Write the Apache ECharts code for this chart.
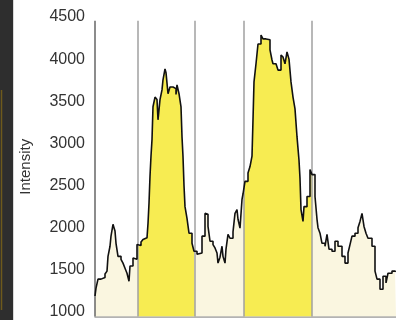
<!DOCTYPE html>
<html>
<head>
<meta charset="utf-8">
<script src="https://cdn.jsdelivr.net/npm/echarts@6/dist/echarts.min.js"></script>
<style>html,body{margin:0;padding:0;background:#fff;}#c{width:396px;height:320px;}</style>
</head>
<body>
<div id="c"></div>
<script>
// Position along the scan (arbitrary units) and measured intensity
const position = [0,1,3,6,8,10,12,13,15,16,18,19,20,21,23,26,28,30,32,34,35,38,40,42,44,46,48,50,52,53,54,55,56,57,58,60,62,63,65,67,68,70,71,72,73,75,78,81,82,84,86,87,88,89,90,92,94,97,99,102,104,107,110,112,113,115,118,120,122,123,125,127,128,130,131,133,135,138,140,142,143,145,147,148,150,153,155,157,158,159,161,163,166,168,171,173,175,177,178,181,183,186,188,190,192,194,196,198,200,202,204,205,206,208,209,212,215,217,220,222,223,225,227,230,232,234,237,240,243,247,250,253,255,257,260,263,265,267,269,271,273,277,280,282,285,288,291,293,297,300,301];
const intensity = [1190,1284,1390,1400,1410,1450,1485,1660,1780,1900,2040,2000,1960,1815,1660,1625,1580,1520,1460,1365,1545,1640,1625,1800,1790,1830,1860,1880,1900,2050,2290,2610,2850,3045,3435,3550,3520,3280,3520,3635,3755,3885,3840,3825,3590,3670,3650,3580,3695,3590,3435,3080,2845,2500,2250,2110,1935,1815,1720,1685,1700,1900,2170,2160,2015,1840,1800,1760,1700,1580,1650,1780,1660,1580,1745,1920,1875,1950,2170,2215,2100,1995,2335,2400,2550,2650,2725,2850,3280,3730,3945,4180,4285,4240,4260,4230,4110,3990,3945,3930,3870,4050,4025,3945,4085,4000,3730,3550,3410,3080,2800,2585,2215,2075,2250,2370,2690,2630,2370,2100,2000,1935,1815,1780,1920,1745,1720,1840,1780,1660,1580,1700,1800,1900,1935,2000,2075,2170,2015,1935,1875,1780,1485,1390,1270,1425,1345,1460,1485,1480];
// Highlighted peak regions (start, end) and all region divider positions
const peakRegions = [[43, 100], [149, 217]];
const dividers = [43, 100, 149, 217];
const yTickLabels = [1000, 1500, 2000, 2500, 3000, 3500, 4000, 4500];

const pts = position.map((p, i) => [p, intensity[i]]);
function valueAt(x) {
  let v = intensity[0];
  for (let i = 0; i < position.length; i++) { if (position[i] <= x) v = intensity[i]; }
  return v;
}
function subset(a, b) {
  const out = [[a, valueAt(a)]];
  pts.forEach(p => { if (p[0] > a && p[0] < b) out.push(p); });
  out.push([b, valueAt(b)]);
  return out;
}
const yMin = 947, yTop = 4455;

const chart = echarts.init(document.getElementById('c'), null, {renderer: 'canvas'});
const series = [];
series.push({
  type: 'line', data: pts, step: 'end', symbol: 'none', silent: true, z: 1,
  lineStyle: {width: 0, opacity: 0},
  areaStyle: {color: '#faf6e0', opacity: 1, origin: 'start'}
});
peakRegions.forEach(r => {
  series.push({
    type: 'line', data: subset(r[0], r[1]), step: 'end', symbol: 'none', silent: true, z: 2,
    lineStyle: {width: 0, opacity: 0},
    areaStyle: {color: '#f7ec52', opacity: 1, origin: 'start'}
  });
});
series.push({
  type: 'line', data: pts, step: 'end', symbol: 'none', silent: true, z: 4,
  lineStyle: {color: '#111111', width: 1.6},
  markLine: {
    silent: true, symbol: ['none', 'none'], label: {show: false}, z: 3,
    data: [[{coord: [0, yMin], lineStyle: {color: '#666', width: 1.5, type: 'solid'}}, {coord: [0, yTop]}]].concat(
      dividers.map(d => [{coord: [d, yMin], lineStyle: {color: '#a0a0a0', width: 1.5, type: 'solid'}}, {coord: [d, yTop]}]))
  }
});

chart.setOption({
  animation: false,
  backgroundColor: '#ffffff',
  grid: {left: 95, right: 0, top: 17, bottom: 2, containLabel: false},
  xAxis: {
    type: 'value', min: 0, max: 301,
    axisLabel: {show: false}, axisTick: {show: false}, splitLine: {show: false},
    axisLine: {show: true, lineStyle: {color: '#9a9a9a', width: 1.5}}
  },
  yAxis: {
    type: 'value', min: yMin, max: 4500,
    name: 'Intensity', nameLocation: 'middle', nameGap: 62,
    nameTextStyle: {fontSize: 15, color: '#333', fontFamily: 'Liberation Sans'},
    axisLine: {show: false}, axisTick: {show: false}, splitLine: {show: false},
    axisLabel: {customValues: yTickLabels, formatter: v => String(v), fontSize: 16, color: '#333', margin: 10, fontFamily: 'Liberation Sans'}
  },
  graphic: [
    {type: 'rect', left: 0, top: 0, shape: {width: 13, height: 320}, style: {fill: '#2e2e2e'}, z: 10},
    {type: 'line', shape: {x1: 1.5, y1: 90, x2: 1.5, y2: 310}, style: {stroke: '#6e5a1c', lineWidth: 1.5}, z: 11},
    {type: 'line', shape: {x1: 13.5, y1: 0, x2: 13.5, y2: 320}, style: {stroke: '#d8d8d8', lineWidth: 1}, z: 11}
  ],
  series: series
});
</script>
</body>
</html>
